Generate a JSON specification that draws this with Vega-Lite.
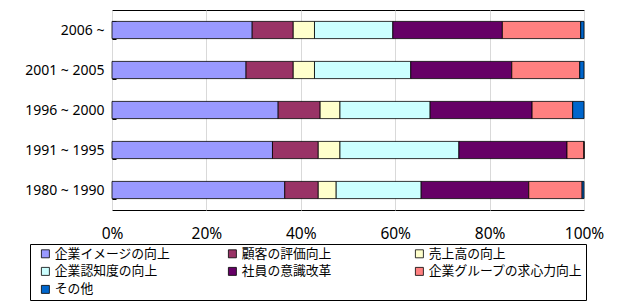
{
  "$schema": "https://vega.github.io/schema/vega-lite/v6.json",
  "width": 472,
  "height": 200,
  "autosize": {"type": "none"},
  "padding": {"left": 112, "top": 10, "right": 42, "bottom": 91},
  "background": "white",
  "data": {
    "values": [
      {"p": "2006 ~", "s": "企業イメージの向上", "v": 29.7},
      {"p": "2006 ~", "s": "顧客の評価向上", "v": 8.7},
      {"p": "2006 ~", "s": "売上高の向上", "v": 4.5},
      {"p": "2006 ~", "s": "企業認知度の向上", "v": 16.6},
      {"p": "2006 ~", "s": "社員の意識改革", "v": 23.2},
      {"p": "2006 ~", "s": "企業グループの求心力向上", "v": 16.6},
      {"p": "2006 ~", "s": "その他", "v": 0.7},
      {"p": "2001 ~ 2005", "s": "企業イメージの向上", "v": 28.4},
      {"p": "2001 ~ 2005", "s": "顧客の評価向上", "v": 10.0},
      {"p": "2001 ~ 2005", "s": "売上高の向上", "v": 4.5},
      {"p": "2001 ~ 2005", "s": "企業認知度の向上", "v": 20.4},
      {"p": "2001 ~ 2005", "s": "社員の意識改革", "v": 21.4},
      {"p": "2001 ~ 2005", "s": "企業グループの求心力向上", "v": 14.4},
      {"p": "2001 ~ 2005", "s": "その他", "v": 0.9},
      {"p": "1996 ~ 2000", "s": "企業イメージの向上", "v": 35.2},
      {"p": "1996 ~ 2000", "s": "顧客の評価向上", "v": 8.9},
      {"p": "1996 ~ 2000", "s": "売上高の向上", "v": 4.2},
      {"p": "1996 ~ 2000", "s": "企業認知度の向上", "v": 19.1},
      {"p": "1996 ~ 2000", "s": "社員の意識改革", "v": 21.6},
      {"p": "1996 ~ 2000", "s": "企業グループの求心力向上", "v": 8.6},
      {"p": "1996 ~ 2000", "s": "その他", "v": 2.4},
      {"p": "1991 ~ 1995", "s": "企業イメージの向上", "v": 34.0},
      {"p": "1991 ~ 1995", "s": "顧客の評価向上", "v": 9.7},
      {"p": "1991 ~ 1995", "s": "売上高の向上", "v": 4.6},
      {"p": "1991 ~ 1995", "s": "企業認知度の向上", "v": 25.2},
      {"p": "1991 ~ 1995", "s": "社員の意識改革", "v": 22.9},
      {"p": "1991 ~ 1995", "s": "企業グループの求心力向上", "v": 3.6},
      {"p": "1991 ~ 1995", "s": "その他", "v": 0.0},
      {"p": "1980 ~ 1990", "s": "企業イメージの向上", "v": 36.6},
      {"p": "1980 ~ 1990", "s": "顧客の評価向上", "v": 7.1},
      {"p": "1980 ~ 1990", "s": "売上高の向上", "v": 3.8},
      {"p": "1980 ~ 1990", "s": "企業認知度の向上", "v": 18.0},
      {"p": "1980 ~ 1990", "s": "社員の意識改革", "v": 22.8},
      {"p": "1980 ~ 1990", "s": "企業グループの求心力向上", "v": 11.3},
      {"p": "1980 ~ 1990", "s": "その他", "v": 0.4}
    ]
  },
  "transform": [
    {"calculate": "indexof(['企業イメージの向上','顧客の評価向上','売上高の向上','企業認知度の向上','社員の意識改革','企業グループの求心力向上','その他'], datum.s)", "as": "k"}
  ],
  "mark": {"type": "bar", "stroke": "black", "strokeWidth": 0.8},
  "encoding": {
    "y": {
      "field": "p",
      "type": "nominal",
      "sort": ["2006 ~", "2001 ~ 2005", "1996 ~ 2000", "1991 ~ 1995", "1980 ~ 1990"],
      "scale": {"paddingInner": 0.57, "paddingOuter": 0.285},
      "axis": {
        "title": null,
        "domain": false,
        "tickBand": "extent",
        "tickSize": -4,
        "tickColor": "black",
        "labelFontSize": 14,
        "labelFont": "Noto Sans",
        "labelColor": "black",
        "labelPadding": 12
      }
    },
    "x": {
      "field": "v",
      "type": "quantitative",
      "stack": "normalize",
      "scale": {"domain": [0, 1]},
      "axis": {
        "title": null,
        "format": "%",
        "values": [0, 0.2, 0.4, 0.6, 0.8, 1],
        "domain": false,
        "ticks": false,
        "grid": true,
        "gridColor": "#d9d9d9",
        "labelFlush": false,
        "labelFontSize": 15.5,
        "labelFont": "Noto Sans",
        "labelColor": "black",
        "labelPadding": 16
      }
    },
    "color": {
      "field": "s",
      "type": "nominal",
      "scale": {
        "domain": ["企業イメージの向上", "顧客の評価向上", "売上高の向上", "企業認知度の向上", "社員の意識改革", "企業グループの求心力向上", "その他"],
        "range": ["#9999FF", "#993366", "#FFFFCC", "#CCFFFF", "#660066", "#FF8080", "#0066CC"]
      },
      "legend": {
        "title": null,
        "orient": "none",
        "legendX": -82,
        "legendY": 234,
        "direction": "horizontal",
        "columns": 3,
        "gridAlign": "all",
        "columnPadding": 11,
        "rowPadding": 4,
        "padding": 3,
        "symbolOffset": 6,
        "strokeColor": "black",
        "fillColor": "white",
        "symbolType": "square",
        "symbolSize": 64,
        "symbolStrokeColor": "black",
        "symbolStrokeWidth": 0.8,
        "labelFont": "Noto Sans CJK JP",
        "labelFontSize": 12.8,
        "labelColor": "black",
        "labelOffset": 3,
        "labelLimit": 300
      }
    },
    "order": {"field": "k", "type": "quantitative"}
  },
  "config": {
    "view": {"stroke": "black", "strokeWidth": 1}
  }
}
